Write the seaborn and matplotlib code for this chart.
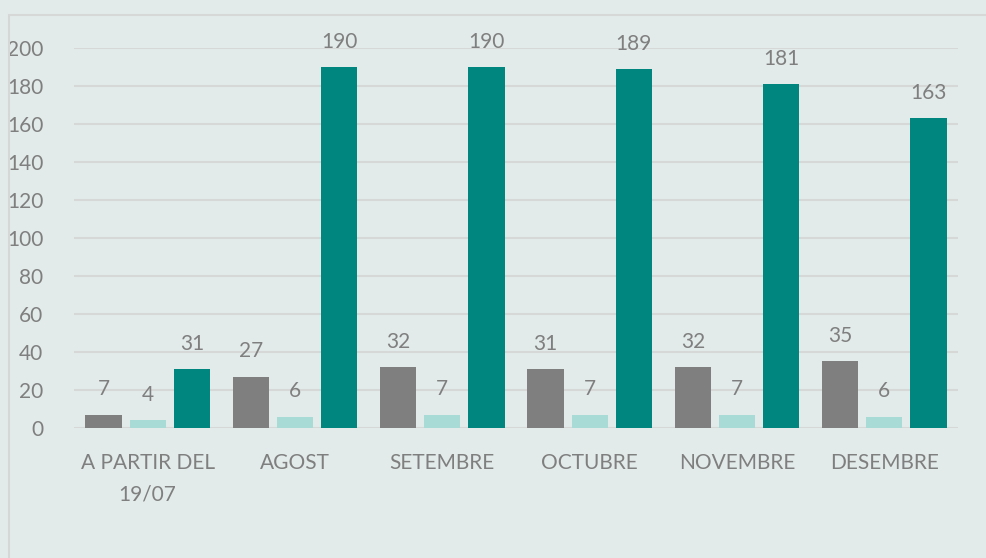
import seaborn as sns
import matplotlib.pyplot as plt
import matplotlib.patches as patches
import pandas as pd

# Data
mesos = ["A PARTIR DEL\n19/07", "AGOST", "SETEMBRE", "OCTUBRE", "NOVEMBRE", "DESEMBRE"]
serie_1 = [7, 27, 32, 31, 32, 35]
serie_2 = [4, 6, 7, 7, 7, 6]
serie_3 = [31, 190, 190, 189, 181, 163]
series = ["Sèrie 1", "Sèrie 2", "Sèrie 3"]
colors = ["#7F7F7F", "#A9DBD6", "#00857F"]

df = pd.DataFrame({"mes": mesos, "Sèrie 1": serie_1, "Sèrie 2": serie_2, "Sèrie 3": serie_3})
df_long = df.melt(id_vars="mes", var_name="serie", value_name="valor")

bg = "#E2EBEA"
txt = "#7F7F7F"
grid = "#D6D8D8"

sns.set_style("white")
plt.rcParams["font.family"] = ["Lato", "DejaVu Sans"]

fig = plt.figure(figsize=(9.87, 5.58), dpi=100, facecolor=bg)
ax = fig.add_axes([0.075, 0.233, 0.8956, 0.681])
ax.set_facecolor(bg)

sns.barplot(data=df_long, x="mes", y="valor", hue="serie", hue_order=series,
            palette=colors, width=0.9, gap=0.18, saturation=1, legend=False,
            linewidth=0, ax=ax)

for c in ax.containers:
    ax.bar_label(c, padding=11, fontsize=15, color=txt)

ax.set_ylim(0, 200)
ax.set_xlim(-0.5, 5.5)
ax.set_yticks(range(0, 201, 20))
ax.yaxis.grid(True, color=grid, linewidth=1.5)
ax.set_axisbelow(True)
for s in ax.spines.values():
    s.set_visible(False)
ax.tick_params(axis="y", length=0, pad=22, labelsize=15, labelcolor=txt)
ax.tick_params(axis="x", length=0, pad=18, labelsize=15, labelcolor=txt)
for lbl in ax.get_xticklabels():
    lbl.set_linespacing(1.75)
ax.set_xlabel("")
ax.set_ylabel("")

# chart border
fig.patches.append(patches.Rectangle((0.009, -0.05), 1.1, 1.023, transform=fig.transFigure,
                                     fill=False, edgecolor="#D6D8D8", linewidth=1.5))

fig.savefig("out.png", dpi=100, facecolor=bg)
